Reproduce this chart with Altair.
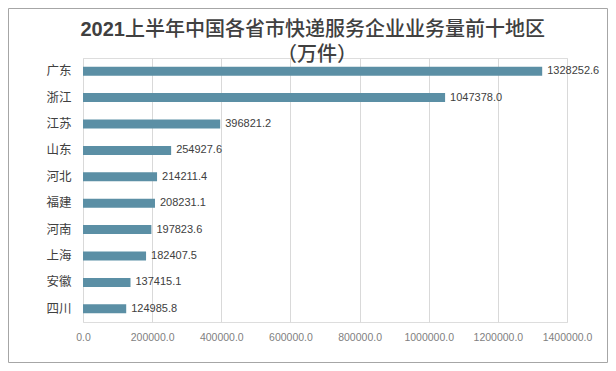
import altair as alt
import pandas as pd

regions = ["广东", "浙江", "江苏", "山东", "河北", "福建", "河南", "上海", "安徽", "四川"]
values = [1328252.6, 1047378.0, 396821.2, 254927.6, 214211.4, 208231.1, 197823.6, 182407.5, 137415.1, 124985.8]
x_ticks = [0, 200000, 400000, 600000, 800000, 1000000, 1200000, 1400000]
title_year = "2021"
title_main = "上半年中国各省市快递服务企业业务量前十地区"
title_unit = "（万件）"

df = pd.DataFrame({"region": regions, "value": values})
df["label"] = df["value"].map(lambda v: f"{v:.1f}")

W, H = 484, 264
PAD = {"left": 75, "top": 50, "right": 41, "bottom": 41}

y_enc = alt.Y("region:N", sort=regions, title=None,
              scale=alt.Scale(paddingInner=0.66, paddingOuter=0.33),
              axis=alt.Axis(labelFontSize=12.5, labelColor="#404040", labelFont="Noto Sans CJK SC",
                            ticks=False, domain=False, labelPadding=12, grid=False))
x_enc = alt.X("value:Q", title=None,
              scale=alt.Scale(domain=[0, 1400000], nice=False),
              axis=alt.Axis(values=x_ticks, format=".1f", labelFontSize=10.5, labelColor="#7f7f7f",
                            labelFont="Liberation Sans", ticks=False, domain=False,
                            gridColor="#d9d9d9", gridWidth=1, labelPadding=10, labelFlush=False))

bars = alt.Chart(df).mark_bar(color="#5b8fa5").encode(x=x_enc, y=y_enc)
text = alt.Chart(df).mark_text(align="left", dx=5, fontSize=11, color="#404040",
                               font="Liberation Sans").encode(
    x="value:Q", y=alt.Y("region:N", sort=regions), text="label:N")

border = alt.Chart(pd.DataFrame({"a": [0]})).mark_rect(
    fill=None, stroke="#a6a6a6", strokeWidth=1, clip=False).encode(
    x=alt.value(-PAD["left"] + 0.5), x2=alt.value(W + PAD["right"] - 0.5),
    y=alt.value(-PAD["top"] + 0.5), y2=alt.value(H + PAD["bottom"] - 0.5))

t_year = alt.Chart(pd.DataFrame({"t": [title_year]})).mark_text(
    font="Liberation Sans", fontSize=20, fontWeight="bold", color="#404040",
    align="right", baseline="middle").encode(
    x=alt.value(42), y=alt.value(-28), text="t:N")
t_main = alt.Chart(pd.DataFrame({"t": [title_main]})).mark_text(
    font="Noto Sans CJK SC", fontSize=20, fontWeight=500, color="#404040",
    align="left", baseline="middle").encode(
    x=alt.value(42), y=alt.value(-28), text="t:N")
t_unit = alt.Chart(pd.DataFrame({"t": [title_unit]})).mark_text(
    font="Noto Sans CJK SC", fontSize=20, fontWeight=500, color="#404040",
    align="center", baseline="middle").encode(
    x=alt.value(234), y=alt.value(-3), text="t:N")

chart = alt.layer(border, bars, text, t_year, t_main, t_unit).properties(
    width=W, height=H,
    autosize=alt.AutoSizeParams(type="none"),
    padding=PAD,
).configure_view(stroke=None).configure(background="white")

chart.save("out.html", embed_options={"renderer": "svg", "actions": False})
